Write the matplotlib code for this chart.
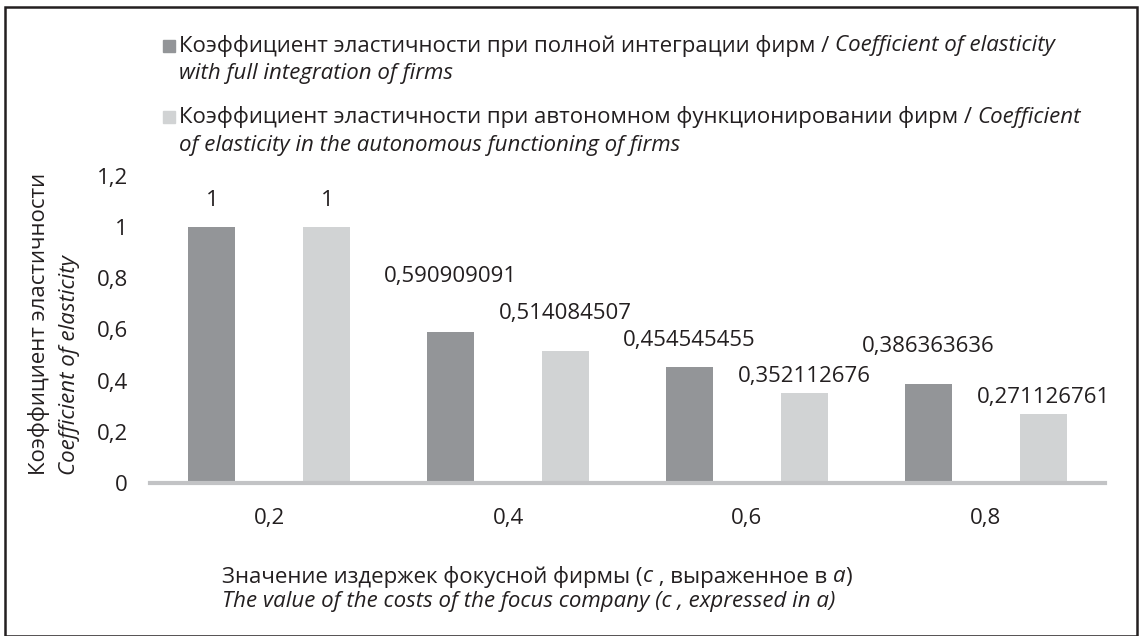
import matplotlib
matplotlib.use("Agg")
import matplotlib.pyplot as plt
from matplotlib.patches import Rectangle

# values of the cost parameter c (in units of a)
categories = ["0,2", "0,4", "0,6", "0,8"]
full_integration = [1, 0.590909091, 0.454545455, 0.386363636]
autonomous = [1, 0.514084507, 0.352112676, 0.271126761]
yticks = [0, 0.2, 0.4, 0.6, 0.8, 1, 1.2]

# label lift above each bar top, in pixels
full_lift = [27, 55, 26, 38]
auto_lift = [27, 38, 16, 16]

DARK = "#939598"
LIGHT = "#d1d3d4"
INK = "#231f20"
FONT = "Open Sans"
FS = 16

plt.rcParams["font.family"] = [FONT, "DejaVu Sans"]
plt.rcParams["text.color"] = INK


def fmt(v):
    s = "%.9f" % v
    s = s.rstrip("0").rstrip(".")
    return s.replace(".", ",")


fig = plt.figure(figsize=(11.4, 6.36), dpi=100)
W, H = 1140, 636
ax = fig.add_axes([150 / W, 1 - 483 / H, 955 / W, (483 - 176) / H])

x = list(range(len(categories)))
off = 0.241
w = 0.197
b1 = ax.bar([i - off for i in x], full_integration, w, color=DARK)
b2 = ax.bar([i + off for i in x], autonomous, w, color=LIGHT)

# data labels over the bars
for bars, vals, lifts in ((b1, full_integration, full_lift), (b2, autonomous, auto_lift)):
    for r, v, d in zip(bars, vals, lifts):
        ax.annotate(fmt(v), xy=(r.get_x() + r.get_width() / 2, v),
                    xytext=(0, d), textcoords="offset pixels",
                    ha="center", va="center", fontsize=FS, color=INK)

ax.set_xlim(-0.5, len(categories) - 0.5)
ax.set_ylim(0, 1.2)
ax.set_xticks(x)
ax.set_xticklabels(categories)
ax.set_yticks(yticks)
ax.set_yticklabels([fmt(t) for t in yticks])
ax.tick_params(axis="x", length=0, pad=18, labelsize=FS, colors=INK)
ax.tick_params(axis="y", length=0, pad=16, labelsize=FS, colors=INK)
for s in ("top", "right", "left"):
    ax.spines[s].set_visible(False)
ax.spines["bottom"].set_color("#c2c3c5")
ax.spines["bottom"].set_linewidth(3)


def chain(x0, y0, pieces, size=FS):
    # write a run of regular/italic pieces on one line
    t = fig.text(x0, y0, pieces[0][0], style=pieces[0][1], fontsize=size,
                 ha="left", va="center")
    for s, st in pieces[1:]:
        t = ax.annotate(s, xy=(1, 0.5), xycoords=t, ha="left", va="center",
                        style=st, fontsize=size, annotation_clip=False)
    return t


# legend
leg_x = 179 / W
rows = [
    (46, [("Коэффициент эластичности при полной интеграции фирм / ", "normal"),
          ("Coefficient of elasticity", "italic")], DARK),
    (74, [("with full integration of firms", "italic")], None),
    (117, [("Коэффициент эластичности при автономном функционировании фирм / ", "normal"),
           ("Coefficient", "italic")], LIGHT),
    (145, [("of elasticity in the autonomous functioning of firms", "italic")], None),
]
for yc, pieces, col in rows:
    chain(leg_x, 1 - yc / H, pieces)
    if col:
        fig.patches.append(Rectangle((163 / W, 1 - (yc + 6) / H), 12 / W, 12 / H,
                                     transform=fig.transFigure, color=col))

# axis titles
fig.text(39 / W, 1 - 475 / H, "Коэффициент эластичности", rotation=90,
         ha="center", va="bottom", fontsize=FS)
fig.text(70 / W, 1 - 475 / H, "Coefficient of elasticity", rotation=90,
         ha="center", va="bottom", fontsize=FS, style="italic")

chain(222 / W, 1 - 577 / H, [("Значение издержек фокусной фирмы (", "normal"),
                             ("c", "italic"), (" , выраженное в ", "normal"),
                             ("a", "italic"), (")", "normal")])
chain(222 / W, 1 - 601 / H, [("The value of the costs of the focus company (c , expressed in a)", "italic")])

# frame around the figure
fig.patches.append(Rectangle((5 / W, 0.5 / H), 1132 / W, 628.5 / H, transform=fig.transFigure,
                             fill=False, edgecolor=INK, linewidth=1.8))

fig.savefig("out.png", dpi=100)
